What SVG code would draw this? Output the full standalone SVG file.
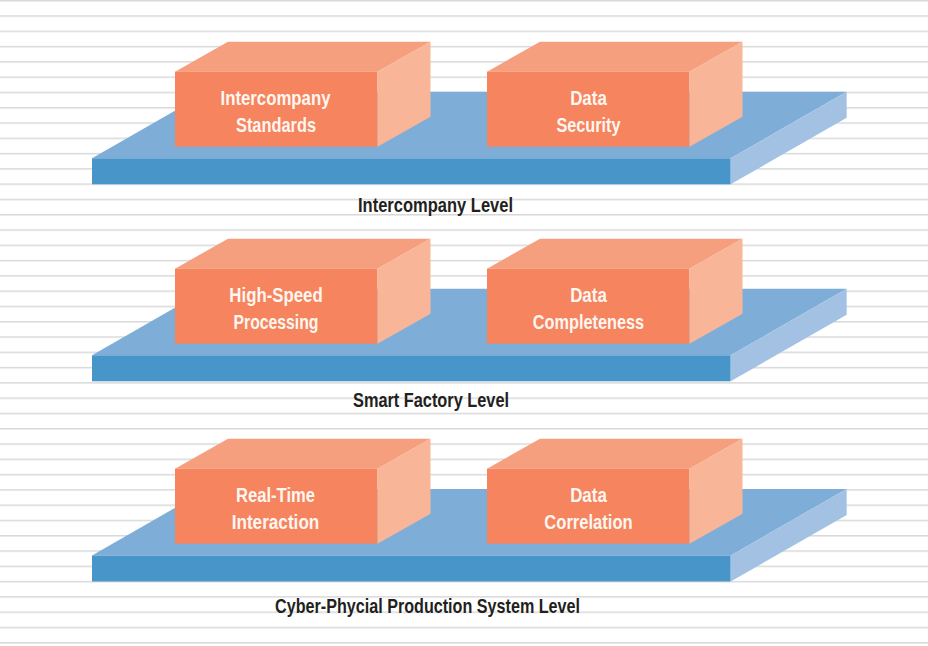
<svg xmlns="http://www.w3.org/2000/svg" xmlns:xlink="http://www.w3.org/1999/xlink" width="928" height="646" viewBox="0 0 928 646">
<style>
.pf-top{fill:#7eaed8}
.pf-front{fill:#4795c9}
.pf-side{fill:#a3c2e3}
.bx-front{fill:#f5845f}
.bx-top{fill:#f69f7e}
.bx-side{fill:#f9b598}
.bt{font-family:"Liberation Sans",Arial,sans-serif;font-weight:bold;font-size:21px;fill:#fff6f0;text-anchor:middle}
.lvl{font-family:"Liberation Sans",Arial,sans-serif;font-weight:bold;font-size:21px;fill:#231f20;text-anchor:middle}
</style>
<defs>
<pattern id="rules" x="0" y="0" width="928" height="15.286" patternUnits="userSpaceOnUse">
<rect x="0" y="0" width="928" height="1.5" fill="#d9d9d9"/>
</pattern>
<g id="platform">
<polygon class="pf-top" points="0,0 116,-66.6 754.7,-66.6 638.7,0"/>
<rect class="pf-front" x="0" y="0" width="638.7" height="26"/>
<polygon class="pf-side" points="638.7,0 754.7,-66.6 754.7,-40.6 638.7,26"/>
</g>
<g id="box">
<polygon class="bx-top" points="0,0 53,-30 255.5,-30 202.5,0"/>
<rect class="bx-front" x="0" y="0" width="202.5" height="75"/>
<polygon class="bx-side" points="202.5,0 255.5,-30 255.5,45 202.5,75"/>
</g>
</defs>
<rect x="0" y="0" width="928" height="646" fill="#ffffff"/>
<rect x="0" y="0" width="928" height="646" fill="url(#rules)"/>

<g id="level-intercompany">
<use xlink:href="#platform" href="#platform" x="92" y="158.3"/>
<g id="node-intercompany-standards">
<use xlink:href="#box" href="#box" x="175" y="71.7"/>
<text class="bt" x="275.5" y="105" textLength="110" lengthAdjust="spacingAndGlyphs">Intercompany</text>
<text class="bt" x="276" y="131.7" textLength="80" lengthAdjust="spacingAndGlyphs">Standards</text>
</g>
<g id="node-data-security">
<use xlink:href="#box" href="#box" x="487" y="71.7"/>
<text class="bt" x="588.5" y="105" textLength="36.7" lengthAdjust="spacingAndGlyphs">Data</text>
<text class="bt" x="588.5" y="131.7" textLength="64" lengthAdjust="spacingAndGlyphs">Security</text>
</g>
<text class="lvl" x="435.5" y="211.7" textLength="155" lengthAdjust="spacingAndGlyphs">Intercompany Level</text>
</g>

<g id="level-smart-factory">
<use xlink:href="#platform" href="#platform" x="92" y="355.3"/>
<g id="node-high-speed-processing">
<use xlink:href="#box" href="#box" x="175" y="268.7"/>
<text class="bt" x="276" y="302" textLength="93.3" lengthAdjust="spacingAndGlyphs">High-Speed</text>
<text class="bt" x="276" y="328.7" textLength="85" lengthAdjust="spacingAndGlyphs">Processing</text>
</g>
<g id="node-data-completeness">
<use xlink:href="#box" href="#box" x="487" y="268.7"/>
<text class="bt" x="588.5" y="302" textLength="36.7" lengthAdjust="spacingAndGlyphs">Data</text>
<text class="bt" x="588.5" y="328.7" textLength="111.3" lengthAdjust="spacingAndGlyphs">Completeness</text>
</g>
<text class="lvl" x="431" y="406.7" textLength="156" lengthAdjust="spacingAndGlyphs">Smart Factory Level</text>
</g>

<g id="level-cpps">
<use xlink:href="#platform" href="#platform" x="92" y="555.5"/>
<g id="node-real-time-interaction">
<use xlink:href="#box" href="#box" x="175" y="468.7"/>
<text class="bt" x="275.5" y="502" textLength="79" lengthAdjust="spacingAndGlyphs">Real-Time</text>
<text class="bt" x="275.5" y="528.7" textLength="87.7" lengthAdjust="spacingAndGlyphs">Interaction</text>
</g>
<g id="node-data-correlation">
<use xlink:href="#box" href="#box" x="487" y="468.7"/>
<text class="bt" x="588.5" y="502" textLength="36.7" lengthAdjust="spacingAndGlyphs">Data</text>
<text class="bt" x="588.5" y="528.7" textLength="88.3" lengthAdjust="spacingAndGlyphs">Correlation</text>
</g>
<text class="lvl" x="427.5" y="612.7" textLength="305" lengthAdjust="spacingAndGlyphs">Cyber-Phycial Production System Level</text>
</g>

<g id="connectors"/>
</svg>
